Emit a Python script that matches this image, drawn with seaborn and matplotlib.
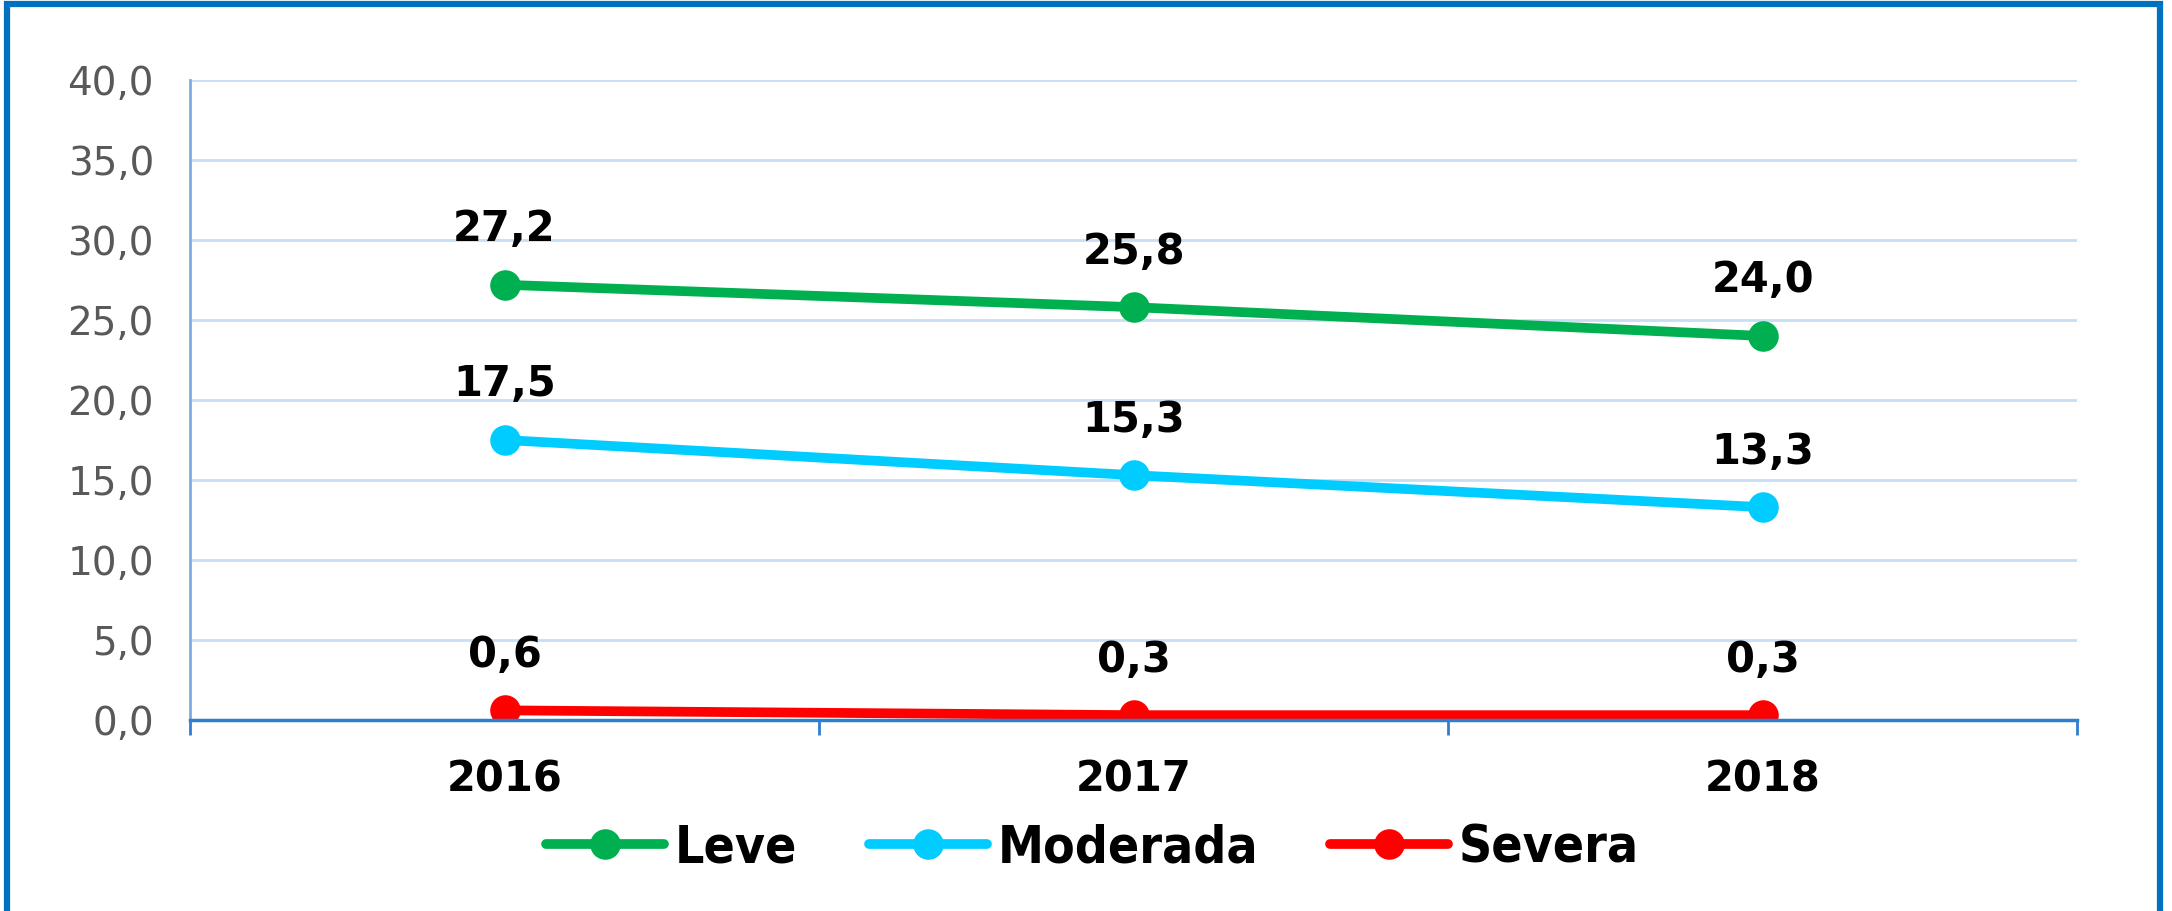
import numpy as np
import pandas as pd
import seaborn as sns
from matplotlib import pyplot as plt
from matplotlib.patches import Rectangle
from matplotlib.ticker import FixedLocator, FuncFormatter

years = ["2016", "2017", "2018"]
leve = [27.2, 25.8, 24.0]
moderada = [17.5, 15.3, 13.3]
severa = [0.6, 0.3, 0.3]
series = ["Leve", "Moderada", "Severa"]
colors = ["#00B050", "#00CCFF", "#FF0000"]

df = pd.DataFrame({
    "pos": list(range(len(years))) * 3,
    "valor": leve + moderada + severa,
    "grupo": np.repeat(series, len(years)),
})

sns.set_style("white")
plt.rcParams["font.family"] = ["DejaVu Sans"]

fig = plt.figure(figsize=(21.72, 9.11), dpi=100)
ax = fig.add_axes([0.0875, 0.2097, 0.8688, 0.7025])

sns.lineplot(data=df, x="pos", y="valor", hue="grupo", palette=colors,
             marker="o", markersize=22, markeredgewidth=0, linewidth=7,
             ax=ax, legend=True)

# data labels
for name, vals in zip(series, [leve, moderada, severa]):
    for i, v in enumerate(vals):
        ax.annotate(f"{v:.1f}".replace(".", ","), (i, v), xytext=(0, 40),
                    textcoords="offset points", ha="center", va="center",
                    fontsize=30, fontweight="bold", color="black")

ax.set_xlim(-0.5, 2.5)
ax.set_ylim(0, 40)
ax.set_yticks(np.arange(0, 41, 5))
ax.yaxis.set_major_formatter(FuncFormatter(lambda v, p: f"{v:.1f}".replace(".", ",")))
ax.set_xticks(range(len(years)))
ax.set_xticklabels(years)
ax.xaxis.set_minor_locator(FixedLocator([-0.5, 0.5, 1.5, 2.5]))
ax.set_xlabel("")
ax.set_ylabel("")

ax.grid(axis="y", color="#C9DEF2", linewidth=2)
ax.set_axisbelow(True)
for s in ["top", "right"]:
    ax.spines[s].set_visible(False)
ax.spines["left"].set_color("#7BAEE0")
ax.spines["left"].set_linewidth(2)
ax.spines["bottom"].set_color("#2F7FD0")
ax.spines["bottom"].set_linewidth(2.5)

ax.tick_params(axis="y", length=0, pad=26, labelsize=28, labelcolor="#595959")
ax.tick_params(axis="x", which="major", length=0, pad=28, labelsize=30, labelcolor="black")
ax.tick_params(axis="x", which="minor", bottom=True, length=11, width=2,
               color="#2F7FD0", direction="out")
for lbl in ax.get_xticklabels():
    lbl.set_fontweight("bold")

handles, labels = ax.get_legend_handles_labels()
ax.get_legend().remove()
leg = fig.legend(handles, labels, loc="center", bbox_to_anchor=(0.503, 0.069), ncol=3,
                 frameon=False, handlelength=2.3, columnspacing=1.4, handletextpad=0.2,
                 prop={"family": "DejaVu Sans", "stretch": "condensed",
                       "weight": "bold", "size": 37})
for t in leg.get_texts():
    t.set_color("black")

# blue outer frame (no bottom edge visible)
fig.patches.append(Rectangle((0.0032, -0.1), 0.9915, 1.0956, transform=fig.transFigure,
                             fill=False, edgecolor="#0070C0", linewidth=4.5))

fig.savefig("out.png", dpi=100)
